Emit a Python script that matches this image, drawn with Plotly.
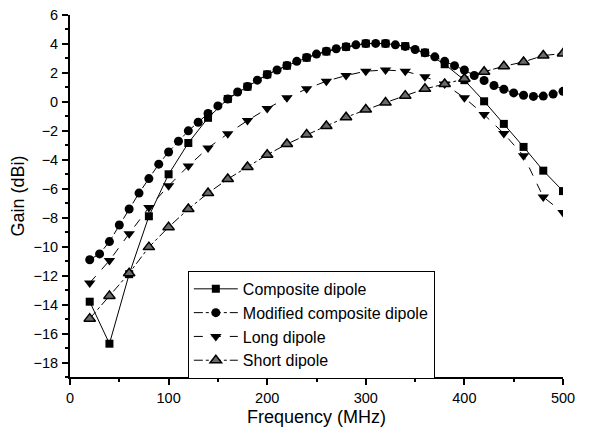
import plotly.graph_objects as go

# Frequencies (MHz)
freq_20 = list(range(20, 501, 20))
freq_10 = list(range(20, 501, 10))

# Gain (dBi) per antenna
composite = [-13.8, -16.7, -11.9, -7.9, -5.0, -2.84, -1.1, 0.2, 1.05, 1.9,
             2.5, 3.05, 3.48, 3.8, 4.03, 4.03, 3.85, 3.4, 2.6, 1.5,
             0.04, -1.52, -3.11, -4.75, -6.16]
modified = [-10.9, -10.5, -9.65, -8.5, -7.4, -6.3, -5.3, -4.3, -3.46,
            -2.72, -2.0, -1.41, -0.8, -0.28, 0.2, 0.68, 1.06, 1.5, 1.88,
            2.2, 2.52, 2.8, 3.07, 3.3, 3.5, 3.67, 3.8, 3.94, 4.03,
            4.04, 4.03, 3.94, 3.83, 3.62, 3.39, 3.11, 2.8, 2.5, 2.2,
            1.82, 1.48, 1.13, 0.87, 0.62, 0.46, 0.38, 0.4, 0.54, 0.73]
long_dipole = [-12.5, -10.96, -9.1, -7.3, -5.8, -4.43, -3.18, -2.2, -1.29, -0.46,
               0.28, 0.9, 1.43, 1.82, 2.12, 2.2, 2.12, 1.73, 1.23, 0.28,
               -0.88, -2.19, -3.72, -6.57, -7.64]
short_dipole = [-14.97, -13.4, -11.83, -10.03, -8.65, -7.4, -6.3, -5.33, -4.5, -3.65,
                -2.91, -2.26, -1.66, -1.06, -0.53, -0.05, 0.43, 0.9, 1.23, 1.6,
                2.08, 2.46, 2.76, 3.2, 3.34]

series_names = ["Composite dipole", "Modified composite dipole", "Long dipole", "Short dipole"]

FONT = "Liberation Sans, Arial, sans-serif"

fig = go.Figure()
fig.add_trace(go.Scatter(
    x=freq_20, y=composite, name=series_names[0], mode="lines+markers",
    line=dict(color="black", width=1, dash="solid"),
    marker=dict(symbol="square", size=8, color="black")))
fig.add_trace(go.Scatter(
    x=freq_10, y=modified, name=series_names[1], mode="lines+markers",
    line=dict(color="black", width=1, dash="dashdot"),
    marker=dict(symbol="circle", size=9, color="black")))
fig.add_trace(go.Scatter(
    x=freq_20, y=long_dipole, name=series_names[2], mode="lines+markers",
    line=dict(color="black", width=1, dash="dash"),
    marker=dict(symbol="triangle-down", size=10, color="black")))
fig.add_trace(go.Scatter(
    x=freq_20, y=short_dipole, name=series_names[3], mode="lines+markers",
    line=dict(color="black", width=1, dash="dashdot"),
    marker=dict(symbol="triangle-up", size=10, color="#6a6a6a",
                line=dict(color="black", width=1.5))))

axis_common = dict(
    showline=True, linecolor="black", linewidth=1.8, mirror=False,
    showgrid=False, zeroline=False, automargin=False,
    ticks="outside", ticklen=6, tickwidth=1.5, tickcolor="black",
    tickfont=dict(family=FONT, size=14.5, color="black"),
)

fig.update_layout(
    width=589, height=434,
    margin=dict(l=70, r=26, t=15, b=57),
    paper_bgcolor="white", plot_bgcolor="white",
    font=dict(family=FONT, color="black"),
    xaxis=dict(range=[0, 500], tickvals=[0, 100, 200, 300, 400, 500],
               minor=dict(tickvals=[50, 150, 250, 350, 450], ticklen=3,
                          tickwidth=1.5, tickcolor="black", ticks="outside"),
               ticklabelstandoff=1,
               title=dict(text="Frequency (MHz)", font=dict(family=FONT, size=18),
                          standoff=5),
               **axis_common),
    yaxis=dict(range=[-19, 6], tickvals=list(range(-18, 7, 2)),
               minor=dict(tickvals=list(range(-19, 6, 2)), ticklen=3,
                          tickwidth=1.5, tickcolor="black", ticks="outside"),
               ticklabelstandoff=1,
               title=dict(text="Gain (dBi)", font=dict(family=FONT, size=18),
                          standoff=4),
               **axis_common),
    legend=dict(x=0.239, y=0.293, xanchor="left", yanchor="top",
                bordercolor="black", borderwidth=1, bgcolor="white",
                font=dict(family=FONT, size=16, color="black"),
                itemwidth=44, tracegroupgap=0),
    showlegend=True,
)

fig.write_html("out.html")
